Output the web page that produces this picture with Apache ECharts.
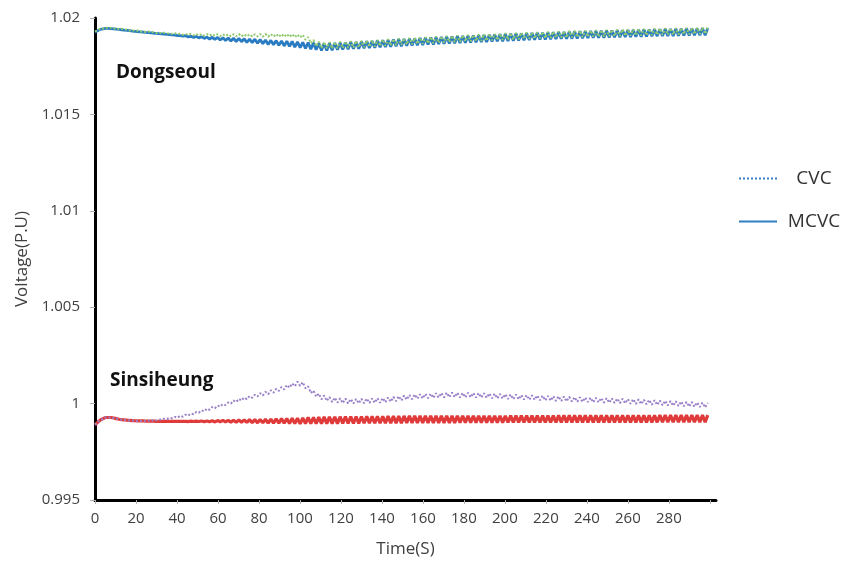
<!DOCTYPE html>
<html>
<head>
<meta charset="utf-8">
<script src="https://cdn.jsdelivr.net/npm/echarts@6/dist/echarts.min.js"></script>
<style>
html,body{margin:0;padding:0;background:#fff;}
#chart{width:842px;height:563px;}
</style>
</head>
<body>
<div id="chart"></div>
<script>
// sampling step of the time axis (s); sample i is at time i*STEP
const STEP = 1.3;

// Dongseoul, MCVC (solid blue)
const dongMCVC = [
1.01927,1.01934,1.01941,1.01944,1.01946,1.01946,1.01945,1.01944,1.01942,1.01941,
1.01939,1.01937,1.01936,1.01934,1.01932,1.01931,1.01929,1.01928,1.01927,1.01925,
1.01924,1.01923,1.01921,1.0192,1.01919,1.01918,1.01916,1.01915,1.01914,1.01912,
1.01911,1.01909,1.01909,1.01906,1.01908,1.01902,1.01905,1.01899,1.01904,1.01897,
1.01903,1.01894,1.01901,1.01891,1.019,1.01889,1.01899,1.01886,1.01897,1.01883,
1.01896,1.01881,1.01895,1.01878,1.01894,1.01877,1.01892,1.01874,1.01891,1.01872,
1.0189,1.01869,1.01888,1.01867,1.01886,1.01863,1.01884,1.01861,1.01883,1.01858,
1.01881,1.01855,1.0188,1.01853,1.01879,1.01849,1.01876,1.01846,1.01874,1.01842,
1.01873,1.01838,1.01871,1.01835,1.01869,1.01832,1.01868,1.01832,1.01869,1.01833,
1.0187,1.01835,1.01872,1.01837,1.01873,1.01838,1.01875,1.0184,1.01876,1.01841,
1.01878,1.01843,1.0188,1.01844,1.01881,1.01846,1.01883,1.01848,1.01885,1.01849,
1.01886,1.01851,1.01888,1.01853,1.0189,1.01854,1.01891,1.01856,1.01893,1.01857,
1.01894,1.01859,1.01896,1.0186,1.01897,1.01862,1.01899,1.01863,1.019,1.01865,
1.01901,1.01866,1.01903,1.01868,1.01904,1.01869,1.01906,1.0187,1.01907,1.01872,
1.01908,1.01873,1.01909,1.01874,1.01911,1.01875,1.01912,1.01876,1.01913,1.01878,
1.01914,1.01879,1.01916,1.0188,1.01917,1.01881,1.01918,1.01882,1.01919,1.01883,
1.0192,1.01885,1.01921,1.01886,1.01922,1.01887,1.01923,1.01888,1.01924,1.01889,
1.01925,1.0189,1.01926,1.01891,1.01927,1.01892,1.01928,1.01892,1.01929,1.01893,
1.0193,1.01894,1.01931,1.01895,1.01931,1.01896,1.01932,1.01897,1.01933,1.01897,
1.01934,1.01898,1.01935,1.01899,1.01935,1.019,1.01936,1.019,1.01937,1.01901,
1.01938,1.01902,1.01938,1.01903,1.01939,1.01903,1.0194,1.01904,1.0194,1.01905,
1.01941,1.01906,1.01942,1.01906,1.01943,1.01907,1.01943,1.01907,1.01944,1.01908,
1.01944,1.01909,1.01945,1.01909,1.01946,1.0191,1.01946,1.01911,1.01947,1.01911,1.01948
];

// Dongseoul, CVC (dotted green)
const dongCVC = [
1.01931,1.01934,1.01946,1.01945,1.01951,1.01947,1.0195,1.01945,1.01948,1.01942,
1.01944,1.01939,1.01941,1.01935,1.01938,1.01932,1.01935,1.01929,1.01932,1.01927,
1.0193,1.01925,1.01927,1.01922,1.01925,1.0192,1.01924,1.01919,1.01922,1.01917,
1.01921,1.01915,1.0192,1.01913,1.01918,1.01912,1.01918,1.0191,1.01918,1.01909,
1.01917,1.01908,1.01917,1.01908,1.01917,1.01907,1.01916,1.01906,1.01916,1.01906,
1.01916,1.01905,1.01916,1.01905,1.01917,1.01904,1.01916,1.01904,1.01916,1.01904,
1.01916,1.01904,1.01917,1.01903,1.01917,1.01903,1.01917,1.01903,1.01917,1.01902,
1.01917,1.01902,1.01917,1.01901,1.01917,1.019,1.01915,1.01898,1.01913,1.01887,
1.01901,1.01869,1.01886,1.01853,1.01878,1.01843,1.01876,1.01842,1.01875,1.01841,
1.01876,1.01843,1.01877,1.01844,1.01878,1.01845,1.0188,1.01846,1.01881,1.01847,
1.01882,1.01849,1.01884,1.0185,1.01885,1.01852,1.01887,1.01854,1.01889,1.01855,
1.0189,1.01857,1.01892,1.01859,1.01894,1.0186,1.01895,1.01862,1.01897,1.01863,
1.01898,1.01865,1.019,1.01866,1.01901,1.01868,1.01903,1.01869,1.01904,1.01871,
1.01905,1.01872,1.01907,1.01874,1.01908,1.01875,1.0191,1.01876,1.01911,1.01878,
1.01912,1.01879,1.01913,1.0188,1.01915,1.01881,1.01916,1.01882,1.01917,1.01884,
1.01918,1.01885,1.0192,1.01886,1.01921,1.01887,1.01922,1.01888,1.01923,1.01889,
1.01924,1.01891,1.01925,1.01892,1.01926,1.01893,1.01927,1.01894,1.01928,1.01895,
1.01929,1.01896,1.0193,1.01897,1.01931,1.01898,1.01932,1.01898,1.01933,1.01899,
1.01934,1.019,1.01935,1.01901,1.01935,1.01902,1.01936,1.01903,1.01937,1.01903,
1.01938,1.01904,1.01939,1.01905,1.01939,1.01906,1.0194,1.01906,1.01941,1.01907,
1.01942,1.01908,1.01942,1.01909,1.01943,1.01909,1.01944,1.0191,1.01944,1.01911,
1.01945,1.01912,1.01946,1.01912,1.01947,1.01913,1.01947,1.01913,1.01948,1.01914,
1.01948,1.01915,1.01949,1.01915,1.0195,1.01916,1.0195,1.01917,1.01951,1.01917,1.01952
];

// Sinsiheung, MCVC (solid red)
const sinMCVC = [
0.9989,0.99903,0.99915,0.99922,0.99928,0.99928,0.99928,0.99925,0.99922,0.99919,
0.99917,0.99916,0.99914,0.99913,0.99912,0.99911,0.9991,0.9991,0.9991,0.99909,
0.99909,0.99909,0.99909,0.99908,0.99908,0.99908,0.99908,0.99908,0.99908,0.99908,
0.99908,0.99908,0.99908,0.99908,0.99908,0.99907,0.99909,0.99907,0.99909,0.99907,
0.9991,0.99906,0.9991,0.99906,0.99911,0.99905,0.99912,0.99906,0.99913,0.99905,
0.99913,0.99904,0.99914,0.99903,0.99915,0.99903,0.99916,0.99902,0.99917,0.99901,
0.99917,0.999,0.99918,0.999,0.99919,0.99899,0.9992,0.99899,0.99921,0.99898,
0.99922,0.99898,0.99923,0.99897,0.99924,0.99896,0.99924,0.99895,0.99926,0.99896,
0.99928,0.99896,0.99928,0.99896,0.9993,0.99896,0.99931,0.99896,0.99931,0.99896,
0.99932,0.99896,0.99932,0.99897,0.99933,0.99897,0.99933,0.99897,0.99933,0.99897,
0.99933,0.99898,0.99934,0.99898,0.99934,0.99898,0.99934,0.99898,0.99934,0.99899,
0.99935,0.99899,0.99935,0.99899,0.99935,0.99899,0.99936,0.999,0.99936,0.999,
0.99936,0.999,0.99936,0.999,0.99936,0.999,0.99936,0.999,0.99936,0.999,
0.99936,0.999,0.99936,0.999,0.99936,0.999,0.99937,0.99901,0.99937,0.99901,
0.99937,0.99901,0.99937,0.99901,0.99937,0.99901,0.99937,0.99901,0.99937,0.99901,
0.99937,0.99901,0.99937,0.99901,0.99937,0.99902,0.99938,0.99902,0.99938,0.99902,
0.99938,0.99902,0.99938,0.99902,0.99938,0.99902,0.99938,0.99902,0.99938,0.99902,
0.99938,0.99902,0.99938,0.99902,0.99939,0.99903,0.99939,0.99903,0.99939,0.99903,
0.99939,0.99903,0.99939,0.99903,0.99939,0.99903,0.99939,0.99903,0.99939,0.99903,
0.99939,0.99903,0.99939,0.99903,0.99939,0.99903,0.99939,0.99903,0.99939,0.99903,
0.99939,0.99903,0.99939,0.99903,0.99939,0.99903,0.99939,0.99903,0.99939,0.99903,
0.99939,0.99903,0.9994,0.99904,0.9994,0.99904,0.9994,0.99904,0.9994,0.99904,
0.9994,0.99904,0.9994,0.99904,0.9994,0.99904,0.9994,0.99904,0.9994,0.99904,0.9994
];

// Sinsiheung, CVC (dotted purple)
const sinCVC = [
0.99891,0.99902,0.99916,0.9992,0.99929,0.99927,0.99929,0.99924,0.99923,0.99918,
0.99918,0.99915,0.99915,0.99912,0.99913,0.9991,0.99911,0.99909,0.9991,0.99908,
0.99913,0.9991,0.99915,0.99912,0.99918,0.99916,0.99922,0.9992,0.99926,0.99924,
0.99931,0.99927,0.99937,0.99932,0.99943,0.99938,0.99949,0.99945,0.99957,0.99953,
0.99965,0.9996,0.99974,0.99968,0.99982,0.99976,0.9999,0.99984,0.99998,0.99992,
1.00006,1,1.00016,1.00008,1.00025,1.00016,1.00032,1.00023,1.00039,1.0003,
1.00046,1.00037,1.00054,1.00042,1.00061,1.00049,1.00069,1.00056,1.00077,1.00066,
1.00086,1.00073,1.00097,1.00082,1.00105,1.0009,1.00114,1.00092,1.00111,1.00079,
1.0009,1.00055,1.00068,1.00036,1.00052,1.00022,1.00042,1.00014,1.00034,1.00008,
1.00031,1.00005,1.00028,1.00003,1.00026,1.00001,1.00024,1,1.00024,1.00001,
1.00025,1.00002,1.00026,1.00003,1.00027,1.00004,1.00028,1.00004,1.00029,1.00006,
1.00032,1.0001,1.00035,1.00013,1.00039,1.00016,1.00042,1.0002,1.00045,1.00023,
1.00048,1.00025,1.00049,1.00026,1.00051,1.00028,1.00052,1.00029,1.00054,1.00031,
1.00055,1.00032,1.00057,1.00033,1.00057,1.00033,1.00057,1.00032,1.00056,1.00032,
1.00056,1.00032,1.00055,1.00031,1.00055,1.00031,1.00054,1.0003,1.00053,1.00028,
1.00052,1.00027,1.0005,1.00026,1.00049,1.00024,1.00048,1.00023,1.00047,1.00022,
1.00045,1.00021,1.00044,1.0002,1.00043,1.00019,1.00042,1.00017,1.00041,1.00016,
1.0004,1.00015,1.00039,1.00014,1.00038,1.00013,1.00037,1.00012,1.00035,1.00011,
1.00034,1.0001,1.00033,1.00009,1.00032,1.00008,1.00031,1.00007,1.0003,1.00006,
1.00029,1.00005,1.00028,1.00004,1.00027,1.00003,1.00026,1.00002,1.00025,1.00001,
1.00024,0.99999,1.00023,0.99998,1.00022,0.99997,1.0002,0.99996,1.00019,0.99994,
1.00018,0.99993,1.00016,0.99991,1.00015,0.9999,1.00013,0.99989,1.00012,0.99987,
1.00011,0.99986,1.00009,0.99984,1.00008,0.99983,1.00006,0.99982,1.00005,0.9998,1.00004
];

const legendNames = ['CVC', 'MCVC'];
const stationLabels = ['Dongseoul', 'Sinsiheung'];
const xAxisTitle = 'Time(S)';
const yAxisTitle = 'Voltage(P.U)';

function toPairs(arr) { return arr.map((v, i) => [+(i * STEP).toFixed(2), v]); }

const C_BLUE = '#2a7cc2', C_GREEN = '#8fc96c', C_RED = '#e03b3b', C_PURPLE = '#9a80c8';
const labelFont = '"Open Sans", "Noto Sans", sans-serif';

const chart = echarts.init(document.getElementById('chart'), null, {renderer: 'canvas'});
chart.setOption({
  animation: false,
  backgroundColor: '#fff',
  grid: {left: 95, right: 126, top: 18, bottom: 63, containLabel: false},
  xAxis: {
    type: 'value', min: 0, max: 303, interval: 20,
    name: xAxisTitle, nameLocation: 'middle', nameGap: 41,
    nameTextStyle: {color: '#404040', fontSize: 17, fontFamily: labelFont},
    axisLine: {show: true, lineStyle: {color: '#000', width: 3}},
    axisTick: {show: true, length: 4, lineStyle: {color: '#b0b0b0'}},
    axisLabel: {color: '#404040', fontSize: 15, margin: 11, fontFamily: labelFont,
      formatter: v => (v > 290 ? '' : String(v)), showMaxLabel: false},
    splitLine: {show: false}
  },
  yAxis: {
    type: 'value', min: 0.995, max: 1.02, interval: 0.005,
    name: yAxisTitle, nameLocation: 'middle', nameGap: 64, nameRotate: 90,
    nameTextStyle: {color: '#404040', fontSize: 17, fontFamily: labelFont},
    axisLine: {show: true, lineStyle: {color: '#000', width: 3}},
    axisTick: {show: true, length: 5, lineStyle: {color: '#b0b0b0'}},
    axisLabel: {color: '#404040', fontSize: 15, margin: 15, fontFamily: labelFont},
    splitLine: {show: false}
  },
  legend: {
    data: legendNames, orient: 'vertical', left: 733, top: 164,
    itemWidth: 38, itemHeight: 12, itemGap: 24,
    itemStyle: {color: 'transparent', borderColor: 'transparent', borderWidth: 0, opacity: 0},
    textStyle: {color: '#333', fontSize: 19, fontFamily: labelFont,
      rich: {a: {width: 64, align: 'center', fontSize: 19, color: '#333', fontFamily: labelFont}}},
    formatter: n => '{a|' + n + '}'
  },
  series: [
    {name: 'Dongseoul MCVC', type: 'line', data: toPairs(dongMCVC), symbol: 'none', z: 3,
      lineStyle: {color: C_BLUE, width: 2.8}},
    {name: 'Dongseoul CVC', type: 'line', data: toPairs(dongCVC), symbol: 'none', z: 4,
      lineStyle: {color: C_GREEN, width: 2, type: 'dotted'}},
    {name: 'Sinsiheung MCVC', type: 'line', data: toPairs(sinMCVC), symbol: 'none', z: 3,
      lineStyle: {color: C_RED, width: 3.2}},
    {name: 'Sinsiheung CVC', type: 'line', data: toPairs(sinCVC), symbol: 'none', z: 4,
      lineStyle: {color: C_PURPLE, width: 2, type: 'dotted'}},
    {name: 'CVC', type: 'line', data: [], symbol: 'none', color: '#3a7fc4',
      lineStyle: {color: '#3a7fc4', width: 2.5, type: 'dotted'}},
    {name: 'MCVC', type: 'line', data: [], symbol: 'none', color: '#2f7ec2',
      lineStyle: {color: '#2f7ec2', width: 2.5}}
  ],
  graphic: [
    {type: 'text', left: 116, top: 63, style: {text: stationLabels[0], fill: '#111',
      font: 'bold 19px "Open Sans", "Noto Sans", sans-serif'}},
    {type: 'text', left: 110, top: 371, style: {text: stationLabels[1], fill: '#111',
      font: 'bold 19px "Open Sans", "Noto Sans", sans-serif'}}
  ]
});
</script>
</body>
</html>
